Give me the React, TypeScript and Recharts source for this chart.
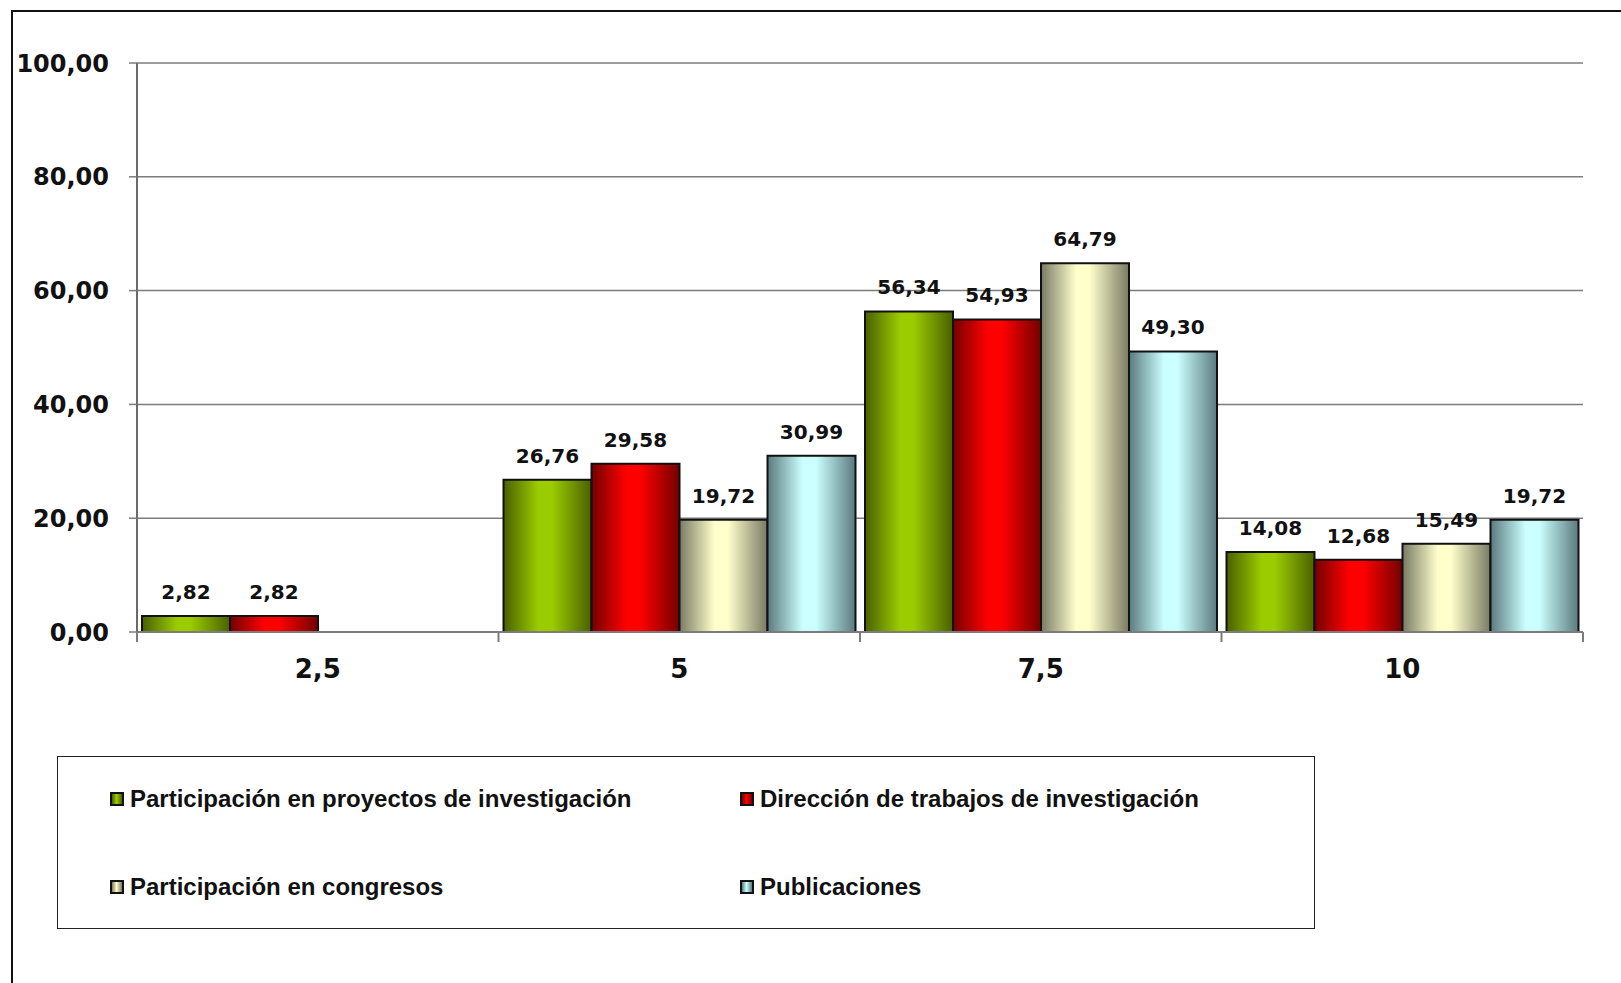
import React from "react";
import {
  BarChart,
  Bar,
  XAxis,
  YAxis,
  CartesianGrid,
  LabelList,
} from "recharts";

// data
const categories = ["2,5", "5", "7,5", "10"];
const proyectos = [2.82, 26.76, 56.34, 14.08];
const direccion = [2.82, 29.58, 54.93, 12.68];
const congresos = [null, 19.72, 64.79, 15.49];
const publicaciones = [null, 30.99, 49.3, 19.72];
const yTicks = [0, 20, 40, 60, 80, 100];

const seriesNames = [
  "Participación en proyectos de investigación",
  "Dirección de trabajos de investigación",
  "Participación en congresos",
  "Publicaciones",
];

const W = 1621;
const H = 983;
const PLOT_LEFT = 137;
const PLOT_RIGHT = 1583;
const PLOT_TOP = 63;
const PLOT_BOTTOM = 632;
const BAND = (PLOT_RIGHT - PLOT_LEFT) / categories.length;

const NUM_FONT = "'DejaVu Sans', sans-serif";
const TEXT_FONT = "'Liberation Sans', Arial, sans-serif";
const GRID = "#7c7c7c";

// dark edge / light centre, like the Excel fill
const shades = [
  { id: "gGreen", dark: "#4a6000", light: "#9bcc00" },
  { id: "gRed", dark: "#740000", light: "#ff0000" },
  { id: "gBeige", dark: "#7a7a64", light: "#ffffcc" },
  { id: "gBlue", dark: "#5a7a7e", light: "#ccffff" },
];

const keys = ["proyectos", "direccion", "congresos", "publicaciones"];

const data = categories.map((c, i) => ({
  cat: c,
  proyectos: proyectos[i],
  direccion: direccion[i],
  congresos: congresos[i],
  publicaciones: publicaciones[i],
}));

const fmt = (v: any) =>
  v === null || v === undefined ? "" : Number(v).toFixed(2).replace(".", ",");

function XTick(props: any) {
  const { x, payload, index } = props;
  const left = x - BAND / 2;
  return (
    <g>
      <line x1={left} x2={left} y1={PLOT_BOTTOM} y2={PLOT_BOTTOM + 10} stroke={GRID} strokeWidth={2} />
      {index === categories.length - 1 && (
        <line
          x1={x + BAND / 2}
          x2={x + BAND / 2}
          y1={PLOT_BOTTOM}
          y2={PLOT_BOTTOM + 10}
          stroke={GRID}
          strokeWidth={2}
        />
      )}
      <text
        x={x}
        y={PLOT_BOTTOM + 46}
        textAnchor="middle"
        fontFamily={NUM_FONT}
        fontWeight="bold"
        fontSize={26}
        fill="#111"
      >
        {payload.value}
      </text>
    </g>
  );
}

function Legend() {
  return (
    <div
      style={{
        position: "absolute",
        left: 57,
        top: 756,
        width: 1258,
        height: 173,
        border: "1.5px solid #222",
        boxSizing: "border-box",
        fontFamily: TEXT_FONT,
        fontWeight: "bold",
        fontSize: 24,
        color: "#111",
      }}
    >
      {seriesNames.map((name, i) => {
        const s = shades[i];
        return (
          <div
            key={name}
            style={{
              position: "absolute",
              left: 52 + (i % 2) * 630,
              top: 42 + Math.floor(i / 2) * 88 - 14,
              height: 28,
              display: "flex",
              alignItems: "center",
              whiteSpace: "nowrap",
            }}
          >
            <span
              style={{
                display: "inline-block",
                width: 14,
                height: 14,
                boxSizing: "border-box",
                border: "2px solid #111",
                background: `linear-gradient(to right, ${s.dark}, ${s.light} 45%, ${s.dark})`,
                marginRight: 6,
              }}
            />
            {name}
          </div>
        );
      })}
    </div>
  );
}

export default function App() {
  return (
    <div
      style={{
        position: "absolute",
        left: 0,
        top: 0,
        width: W,
        height: H,
        overflow: "hidden",
        background: "#fff",
      }}
    >
      <div
        style={{
          position: "absolute",
          left: 11,
          top: 10,
          width: 2000,
          height: 2000,
          border: "2px solid #111",
        }}
      />
      <div style={{ position: "absolute", left: 0, top: 0 }}>
        <BarChart
          width={W}
          height={H}
          data={data}
          margin={{ top: PLOT_TOP, right: W - PLOT_RIGHT, left: 0, bottom: 0 }}
          barCategoryGap={5}
          barGap={0}
        >
          <defs>
            {shades.map((s) => (
              <linearGradient key={s.id} id={s.id} x1="0" y1="0" x2="1" y2="0">
                <stop offset="0%" stopColor={s.dark} />
                <stop offset="40%" stopColor={s.light} />
                <stop offset="55%" stopColor={s.light} />
                <stop offset="100%" stopColor={s.dark} />
              </linearGradient>
            ))}
          </defs>
          <CartesianGrid vertical={false} stroke={GRID} strokeWidth={1.5} />
          <XAxis
            dataKey="cat"
            height={H - PLOT_BOTTOM}
            axisLine={{ stroke: GRID, strokeWidth: 2 }}
            tickLine={false}
            tick={<XTick />}
            interval={0}
          />
          <YAxis
            width={PLOT_LEFT}
            domain={[0, 100]}
            ticks={yTicks}
            tickFormatter={fmt}
            axisLine={{ stroke: "#6a6a6a", strokeWidth: 2 }}
            tickLine={{ stroke: GRID, strokeWidth: 1.5 }}
            tickSize={8}
            tickMargin={20}
            tick={{ fontFamily: NUM_FONT, fontWeight: "bold", fontSize: 24, fill: "#111" }}
          />
          <YAxis
            yAxisId="right"
            orientation="right"
            width={0}
            domain={[0, 100]}
            tick={false}
            tickLine={false}
            axisLine={{ stroke: GRID, strokeWidth: 2.5 }}
          />
          {keys.map((k, i) => (
            <Bar
              key={k}
              dataKey={k}
              name={seriesNames[i]}
              fill={`url(#${shades[i].id})`}
              stroke="#111"
              strokeWidth={2}
              isAnimationActive={false}
            >
              <LabelList
                dataKey={k}
                position="top"
                offset={17}
                formatter={fmt}
                style={{ fontFamily: NUM_FONT, fontWeight: "bold", fontSize: 20, fill: "#111" }}
              />
            </Bar>
          ))}
        </BarChart>
      </div>
      <Legend />
    </div>
  );
}
